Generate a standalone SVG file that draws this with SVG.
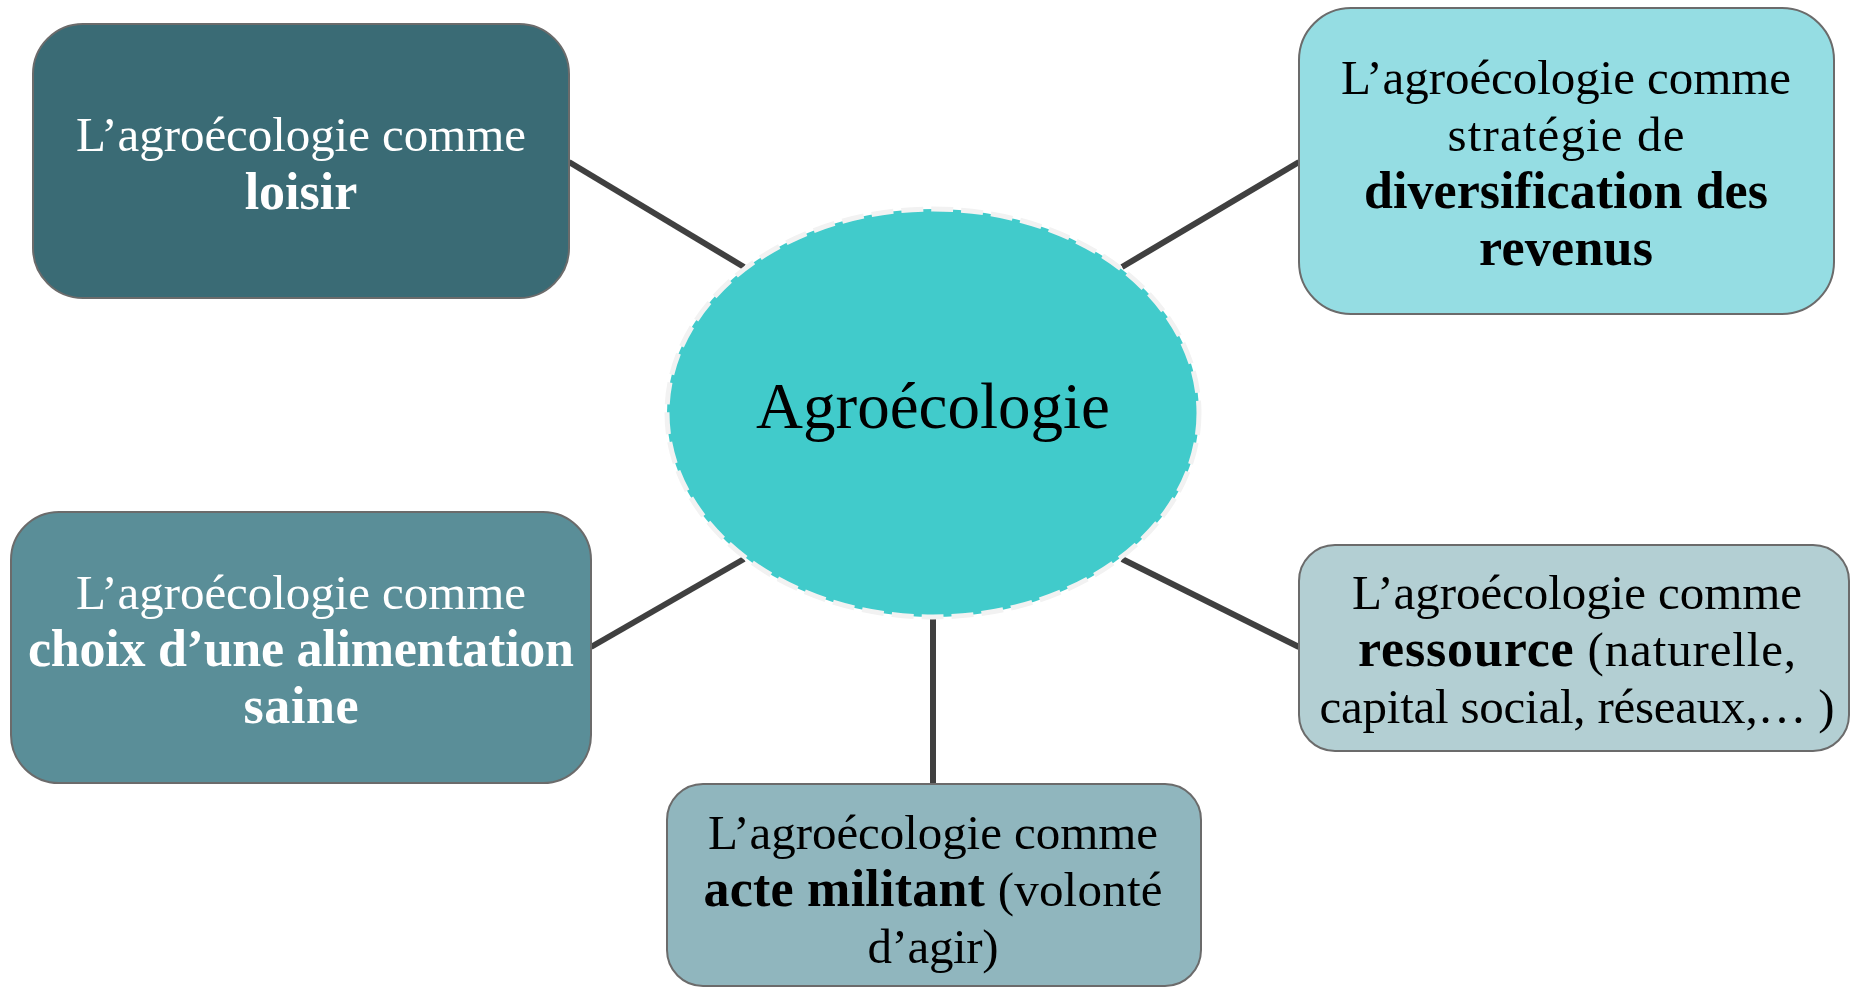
<svg xmlns="http://www.w3.org/2000/svg" width="1852" height="989" viewBox="0 0 1852 989">
<style>
.box{stroke:#6b6b6b;stroke-width:2}
.t{font-family:"Liberation Serif","Times New Roman",serif;font-size:49px;text-anchor:middle}
.w{fill:#ffffff}
.k{fill:#000000}
.b{font-weight:bold;font-size:52px}
.conn line{stroke:#404040;stroke-width:6}
</style>
<rect width="1852" height="989" fill="#ffffff"/>
<g class="conn" id="connectors">
<line x1="569" y1="162" x2="744" y2="267"/>
<line x1="1122" y1="267" x2="1299" y2="162"/>
<line x1="591" y1="647" x2="744" y2="559"/>
<line x1="1122" y1="559" x2="1299" y2="647"/>
<line x1="933" y1="617" x2="933" y2="783"/>
</g>
<g id="center">
<ellipse cx="933" cy="413" rx="266" ry="204" fill="#41cbcb" stroke="#f2f2f2" stroke-width="5" stroke-dasharray="22 8"/>
<text class="t k" x="933" y="428" style="font-size:66px" textLength="354" lengthAdjust="spacingAndGlyphs">Agroécologie</text>
</g>
<g id="loisir">
<rect class="box" x="33" y="24" width="536" height="274" rx="50" fill="#3a6b75"/>
<text class="t w" x="301" y="151" textLength="450">L’agroécologie comme</text>
<text class="t w b" x="301" y="209">loisir</text>
</g>
<g id="diversification">
<rect class="box" x="1299" y="8" width="535" height="306" rx="52" fill="#95dde3"/>
<text class="t k" x="1566" y="94" textLength="450">L’agroécologie comme</text>
<text class="t k" x="1566" y="151" textLength="237">stratégie de</text>
<text class="t k b" x="1566" y="208" textLength="404">diversification des</text>
<text class="t k b" x="1566" y="265" textLength="174">revenus</text>
</g>
<g id="alimentation">
<rect class="box" x="11" y="512" width="580" height="271" rx="48" fill="#5a8e98"/>
<text class="t w" x="301" y="609" textLength="450">L’agroécologie comme</text>
<text class="t w b" x="301" y="666" textLength="546">choix d’une alimentation</text>
<text class="t w b" x="301" y="723" textLength="115">saine</text>
</g>
<g id="ressource">
<rect class="box" x="1299" y="545" width="550" height="206" rx="36" fill="#b3cfd3"/>
<text class="t k" x="1577" y="609" textLength="450">L’agroécologie comme</text>
<text class="t k" x="1577" y="666" textLength="438"><tspan class="b">ressource</tspan> (naturelle,</text>
<text class="t k" x="1577" y="723" textLength="515">capital social, réseaux,… )</text>
</g>
<g id="militant">
<rect class="box" x="667" y="784" width="534" height="202" rx="36" fill="#90b6be"/>
<text class="t k" x="933" y="849" textLength="450">L’agroécologie comme</text>
<text class="t k" x="933" y="906" textLength="459"><tspan class="b">acte militant</tspan> (volonté</text>
<text class="t k" x="933" y="963" textLength="131">d’agir)</text>
</g>
</svg>
